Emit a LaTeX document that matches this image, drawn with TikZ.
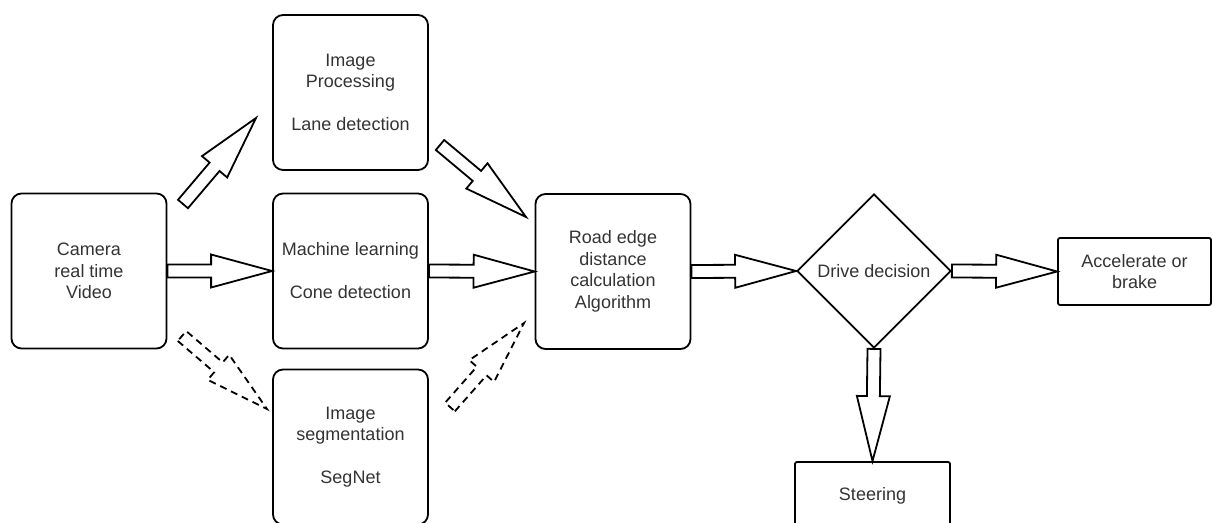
\documentclass[tikz,border=0pt]{standalone}
\usepackage{fontspec}
\setmainfont{Liberation Sans}
\usetikzlibrary{shapes.geometric,calc}
\definecolor{txt}{RGB}{51,51,51}
\tikzset{
  lbl/.style={text=txt, font=\fontsize{18}{21.5}\selectfont, align=center},
  box/.style={lbl, draw=black, line width=1.8pt, rounded corners=10pt, minimum width=155pt, minimum height=155pt, inner sep=0pt},
  sbox/.style={box, rounded corners=2pt, minimum width=153pt, minimum height=67pt},
  dia/.style={lbl, diamond, draw=black, line width=1.8pt, minimum width=154pt, minimum height=154pt, aspect=1, inner sep=0pt},
  flex/.style={draw=black, line width=1.8pt, fill=white, line join=miter},
  flexd/.style={flex, dash pattern=on 7pt off 5pt}
}
\newcommand\flexarrow[4][flex]{% style, from, to, head length
  \path[#1] let \p1=(#2), \p2=(#3), \n1={atan2(\y2-\y1,\x2-\x1)}, \n2={veclen(\x2-\x1,\y2-\y1)} in
   [shift={(\p1)}, rotate=\n1]
   (0,6.5) -- ({\n2-#4},6.5) -- ({\n2-#4},16.5) -- (\n2,0) -- ({\n2-#4},-16.5) -- ({\n2-#4},-6.5) -- (0,-6.5) -- cycle;}
\begin{document}
\begin{tikzpicture}[x=1pt,y=-1pt]
\useasboundingbox (0,0) rectangle (1212,522);
\clip (0,0) rectangle (1212,522);
\node[box] (cam) at (89,271) {Camera\\real time\\Video};
\node[box] (ip) at (350.5,92.5) {Image\\Processing\\[21.5pt]Lane detection};
\node[box] (ml) at (350.5,271) {Machine learning\\[21.5pt]Cone detection};
\node[box] (seg) at (350.5,447) {Image\\segmentation\\[21.5pt]SegNet};
\node[box] (road) at (613,271.5) {Road edge\\distance\\calculation\\Algorithm};
\node[dia] (dd) at (874,271) {Drive decision};
\node[sbox] (acc) at (1134.5,271.5) {Accelerate or\\brake};
\node[sbox, minimum width=155pt] (steer) at (872.5,495.5) {Steering};
\coordinate (a1s) at (183,204);
\coordinate (a1e) at (256,118);
\coordinate (a2s) at (440,145);
\coordinate (a2e) at (526,217);
\coordinate (d1s) at (182,336);
\coordinate (d1e) at (267,409);
\coordinate (d2s) at (450,407);
\coordinate (d2e) at (524,323);
\flexarrow{cam.east}{ml.west}{61}
\flexarrow{ml.east}{road.west}{61}
\flexarrow{road.east}{dd.west}{61}
\flexarrow{dd.east}{acc.west}{61}
\flexarrow{dd.south}{steer.north}{65}
\flexarrow{a1s}{a1e}{64}
\flexarrow{a2s}{a2e}{64}
\flexarrow[flexd]{d1s}{d1e}{64}
\flexarrow[flexd]{d2s}{d2e}{64}
\end{tikzpicture}
\end{document}
